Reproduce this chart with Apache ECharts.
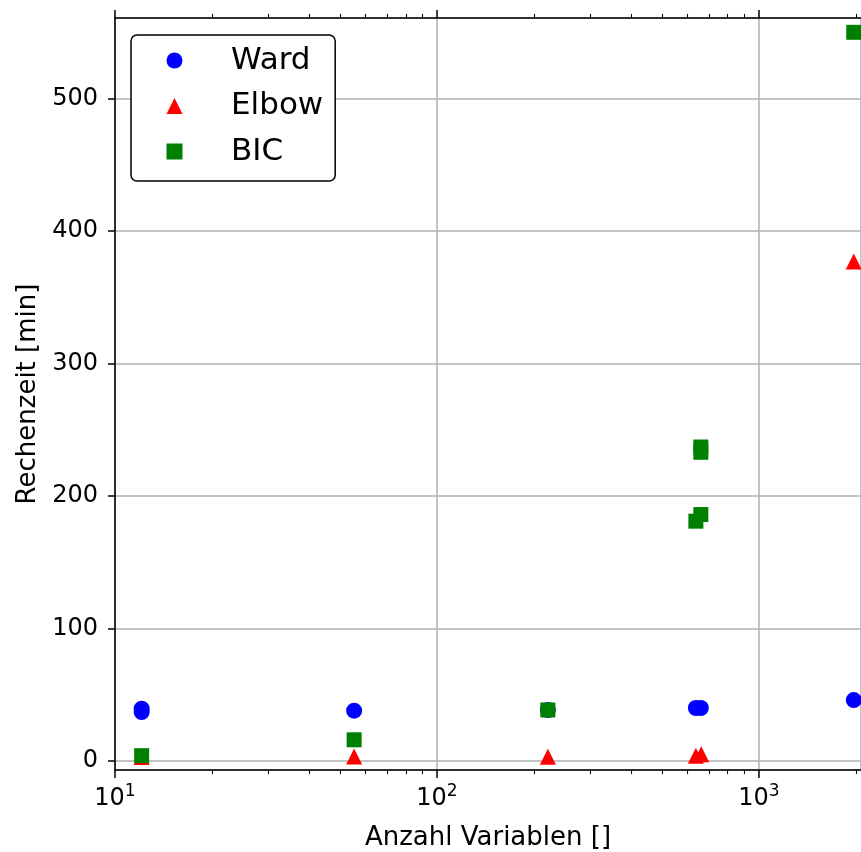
<!DOCTYPE html>
<html><head><meta charset="utf-8">
<script src="https://cdn.jsdelivr.net/npm/echarts@6/dist/echarts.min.js"></script>
<style>html,body{margin:0;padding:0;background:#fff}#chart{width:861px;height:852px}</style>
</head><body><div id="chart"></div>
<script>
// ---- data ----
const seriesNames = ['Ward', 'Elbow', 'BIC'];
const wardX = [12.1, 12.1, 55.3, 221, 637, 660, 1970];
const wardY = [37, 39.5, 38, 38.5, 40, 40, 46];
const elbowX = [12.1, 55.3, 221, 637, 662, 1970];
const elbowY = [3, 3.4, 3.2, 4, 5, 377];
const bicX = [12.1, 55.3, 221, 637, 660, 660, 660, 1970];
const bicY = [4, 16, 38.5, 181, 186, 233, 237, 550];
const xMajorTicks = [10, 100, 1000];
const xMinorTicks = [20, 30, 40, 50, 60, 70, 80, 90, 200, 300, 400, 500, 600, 700, 800, 900, 2000];
const yTicks = [0, 100, 200, 300, 400, 500];
const xRange = [10, 2075];
const yRange = [-6.8, 560.8];
const xTitle = 'Anzahl Variablen []';
const yTitle = 'Rechenzeit [min]';

const FONT = 'DejaVu Sans';
const pairs = (xs, ys) => xs.map((x, i) => [x, ys[i]]);
const black = {color: '#000', width: 1.5};

function xAxisDef(position, ticks, len, main) {
  return {
    type: 'log', logBase: 10, position: position, min: xRange[0], max: xRange[1],
    axisLine: {show: main, onZero: false, lineStyle: black},
    axisTick: {show: true, inside: false, length: len, customValues: ticks,
               lineStyle: {color: '#000', width: main ? 1.5 : 1.1}},
    axisLabel: {show: main && position === 'bottom', customValues: xMajorTicks, margin: 13,
      formatter: v => '{b|10}{s|' + Math.round(Math.log10(v)) + '}',
      rich: {
        b: {fontFamily: FONT, fontSize: 24, color: '#000', lineHeight: 28, verticalAlign: 'bottom'},
        s: {fontFamily: FONT, fontSize: 17, color: '#000', lineHeight: 17, verticalAlign: 'top'}
      }},
    splitLine: {show: main && position === 'bottom', lineStyle: {color: '#b0b0b0', width: 1.5}},
    name: (main && position === 'bottom') ? xTitle : '',
    nameLocation: 'middle', nameGap: 55,
    nameTextStyle: {fontFamily: FONT, fontSize: 26, color: '#000'}
  };
}

const chart = echarts.init(document.getElementById('chart'), null, {renderer: 'canvas'});
chart.setOption({
  animation: false,
  backgroundColor: '#fff',
  grid: {left: 115, top: 18, right: 0, bottom: 82, show: true, containLabel: false,
         outerBoundsMode: 'none',
         borderColor: '#b0b0b0', borderWidth: 1.5, backgroundColor: 'transparent'},
  xAxis: [
    xAxisDef('bottom', xMajorTicks, 8, true),
    xAxisDef('bottom', xMinorTicks, 4, false),
    xAxisDef('top', xMajorTicks, 8, true),
    xAxisDef('top', xMinorTicks, 4, false)
  ],
  yAxis: {
    type: 'value', min: yRange[0], max: yRange[1],
    axisLine: {show: true, onZero: false, lineStyle: black},
    axisTick: {show: true, length: 7, customValues: yTicks, lineStyle: black},
    axisLabel: {customValues: yTicks, fontFamily: FONT, fontSize: 24, color: '#000', margin: 17},
    splitLine: {show: true, lineStyle: {color: '#b0b0b0', width: 1.5}},
    name: yTitle, nameLocation: 'middle', nameGap: 72,
    nameTextStyle: {fontFamily: FONT, fontSize: 26, color: '#000'}
  },
  legend: {
    orient: 'vertical', left: 131, top: 35,
    padding: [10, 12, 14, 35.5], itemGap: 14.5, itemWidth: 16, itemHeight: 16,
    symbolKeepAspect: true,
    borderColor: '#000', borderWidth: 1.5, borderRadius: 6, backgroundColor: '#fff',
    textStyle: {fontFamily: FONT, fontSize: 31, color: '#000', lineHeight: 31, padding: [0, 0, 0, 43.5]},
    data: [
      {name: seriesNames[0], icon: 'circle'},
      {name: seriesNames[1], icon: 'triangle'},
      {name: seriesNames[2], icon: 'rect'}
    ]
  },
  series: [
    {name: seriesNames[0], type: 'scatter', symbol: 'circle', symbolSize: 16,
     itemStyle: {color: '#0000ff', opacity: 1}, data: pairs(wardX, wardY)},
    {name: seriesNames[1], type: 'scatter', symbol: 'triangle', symbolSize: 16,
     itemStyle: {color: '#ff0000', opacity: 1}, data: pairs(elbowX, elbowY)},
    {name: seriesNames[2], type: 'scatter', symbol: 'rect', symbolSize: 15,
     itemStyle: {color: '#008000', opacity: 1}, data: pairs(bicX, bicY)}
  ]
});
</script></body></html>
